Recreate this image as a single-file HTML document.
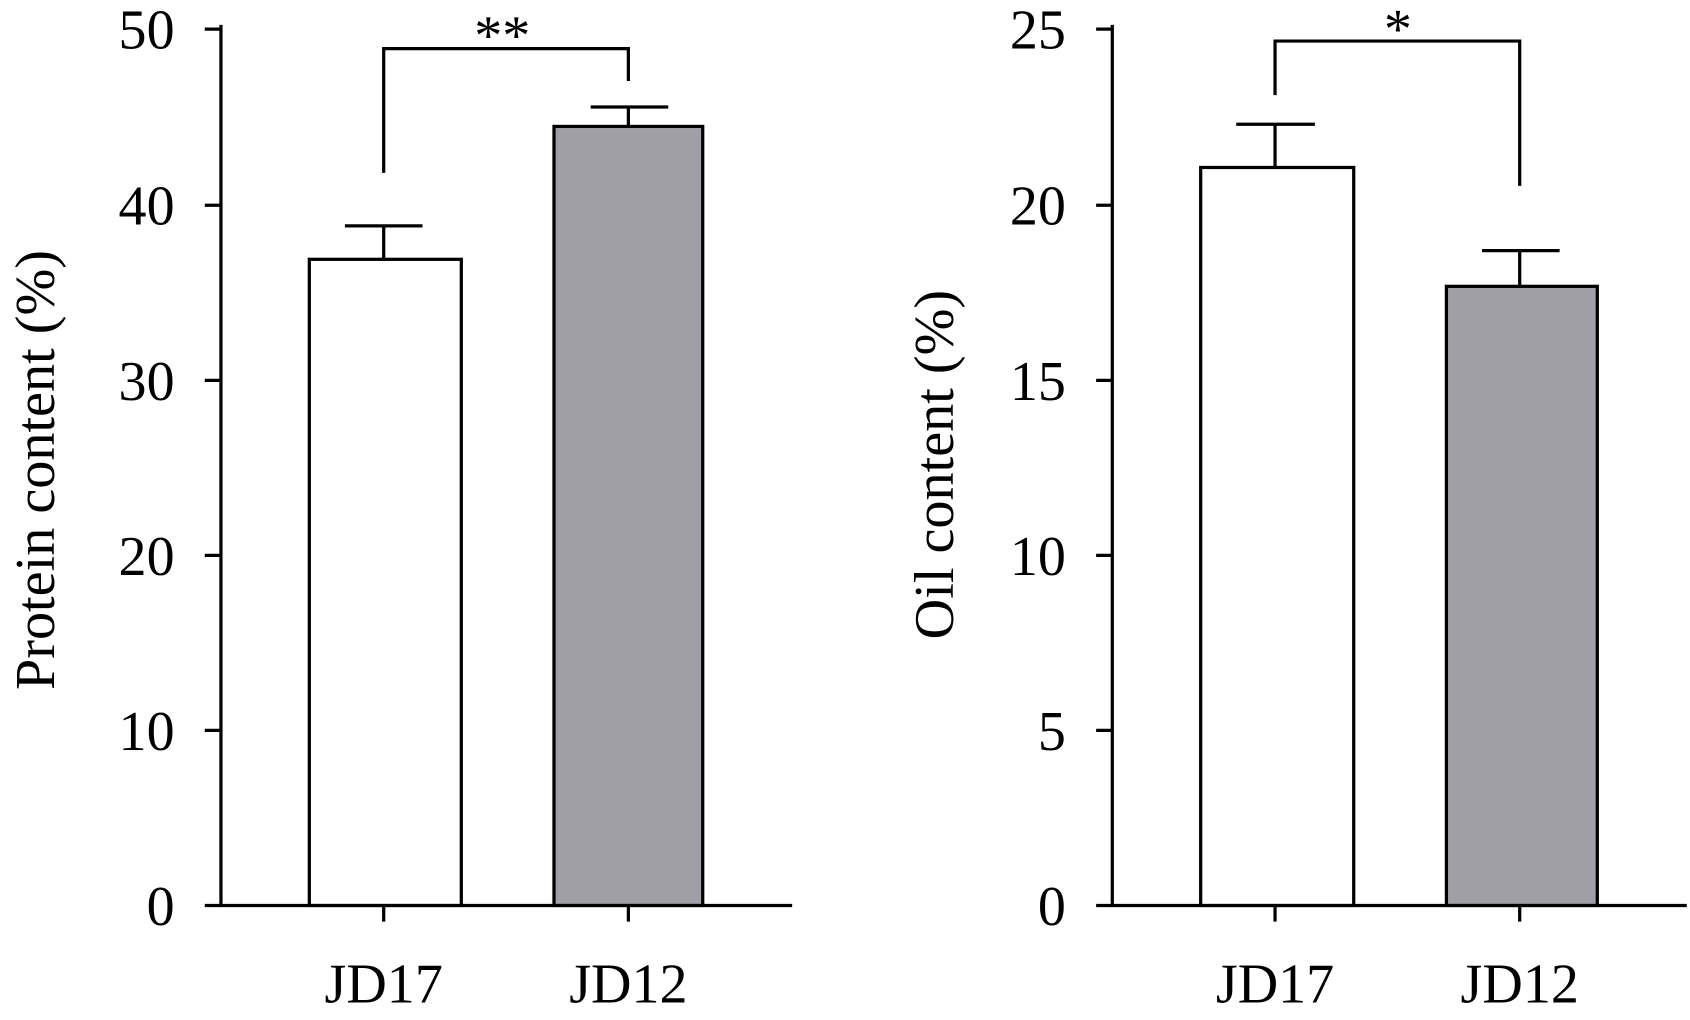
<!DOCTYPE html>
<html><head><meta charset="utf-8"><style>html,body{margin:0;padding:0;background:#fff}svg{display:block}
text{font-family:"Liberation Serif","Times New Roman",serif;font-size:52px}</style></head>
<body>
<svg width="1690" height="1020" viewBox="0 0 1568 944" preserveAspectRatio="none" xmlns="http://www.w3.org/2000/svg" fill="#000">
<g stroke="#000" stroke-width="3" fill="none">
<path d="M205,23 V838 H735"/>
<path d="M190,27 H205 M190,190 H205 M190,352 H205 M190,514 H205 M190,676 H205 M190,838 H205"/>
<path d="M356,838 V853 M583,838 V853"/>
<rect x="287" y="240" width="141" height="598" fill="#fff"/>
<rect x="514" y="117" width="138" height="721" fill="#a09fa7"/>
<path d="M356,240 V209 M320,209 H392 M583,117 V99 M548,99 H620"/>
<path d="M356,160 V45 H583 V75"/>
<path d="M1032,23 V838 H1565"/>
<path d="M1017,27 H1032 M1017,190 H1032 M1017,352 H1032 M1017,514 H1032 M1017,676 H1032 M1017,838 H1032"/>
<path d="M1183,838 V853 M1410,838 V853"/>
<rect x="1114" y="155" width="142" height="683" fill="#fff"/>
<rect x="1342" y="265" width="140" height="573" fill="#a09fa7"/>
<path d="M1183,155 V115 M1147,115 H1220 M1410,265 V232 M1375,232 H1447"/>
<path d="M1183,88 V38 H1410 V172"/>
</g>
<g text-anchor="end">
<text x="162" y="45">50</text><text x="162" y="208">40</text><text x="162" y="370">30</text><text x="162" y="532">20</text><text x="162" y="694">10</text><text x="162" y="856">0</text>
<text x="989" y="45">25</text><text x="989" y="208">20</text><text x="989" y="370">15</text><text x="989" y="532">10</text><text x="989" y="694">5</text><text x="989" y="856">0</text>
</g>
<g text-anchor="middle">
<text x="356" y="928">JD17</text><text x="583" y="928">JD12</text>
<text x="1183" y="928">JD17</text><text x="1410" y="928">JD12</text>
<text x="466" y="50">**</text><text x="1297" y="44">*</text>
<text transform="translate(50,435) rotate(-90)">Protein content (%)</text>
<text transform="translate(884,430) rotate(-90)">Oil content (%)</text>
</g>
</svg>
</body></html>
